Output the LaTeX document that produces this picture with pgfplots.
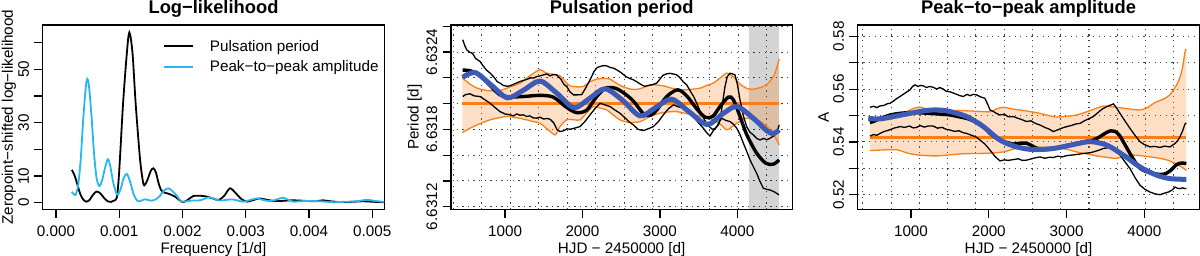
\documentclass[border=0pt]{standalone}
\usepackage{fontspec}
\setmainfont{Liberation Sans}
\usepackage{pgfplots}
\pgfplotsset{compat=1.18}
\definecolor{rblue}{RGB}{61,90,182}
\definecolor{rorange}{RGB}{250,127,25}
\definecolor{rsky}{RGB}{40,182,238}
\newcommand\fs{\fontsize{15.3}{18.4}\selectfont}
\newcommand\ft{\fontsize{18.4}{22}\selectfont\bfseries}
\pgfplotsset{
  every axis title shift=0pt,
  rstyle/.style={
    scale only axis, height=184.3bp,
    axis line style={line width=1.5bp},
    major tick style={line width=1.2bp, black},
    tick align=outside, tick pos=left,
    major tick length=8.5bp,
    scaled x ticks=false, scaled y ticks=false,
    ticklabel style={font=\fs},
    xticklabel style={anchor=base, inner sep=0pt, yshift=-18.5bp},
    yticklabel style={xshift=-5bp, rotate=90, anchor=south, inner sep=0pt},
    label style={font=\fs},
    title style={font=\ft, at={(0.5,1.0624)}, anchor=base},
    xlabel style={at={(axis description cs:0.5,-0.2425)}, anchor=base},
    major grid style={black!75, line width=1.1bp, dash pattern=on 1.3bp off 4.3bp},
  },
  thinblk/.style={black, line width=1.3bp},
  thickblk/.style={black, line width=3.4bp, smooth},
  blueline/.style={rblue, line width=5bp, smooth},
  orthin/.style={rorange, line width=1.3bp, smooth},
  band/.style={fill=rorange, fill opacity=0.25, draw=none},
}
\begin{document}
\begin{tikzpicture}
\useasboundingbox (0,0) rectangle (1200bp,256bp);
% ---------------- Panel 1 ----------------
\begin{axis}[rstyle, at={(42.7bp,46.7bp)}, anchor=south west, width=341.6bp,
  title={Log−likelihood},
  xlabel={Frequency [1/d]},
  ylabel={Zeropoint−shifted log−likelihood},
  ylabel style={at={(axis description cs:-0.0875,0.5)}, anchor=base},
  xmin=-0.00021, xmax=0.00519, ymin=-2.47, ymax=66.6,
  xtick={0,0.001,0.002,0.003,0.004,0.005},
  xticklabels={0.000,0.001,0.002,0.003,0.004,0.005},
  ytick={0,10,20,30,40,50,60},
  yticklabels={0,10,,30,,50,},
  legend style={draw=none, fill=none, at={(axis description cs:0.353,0.919)}, anchor=north west,
    font=\fs, inner sep=0pt, row sep=8bp, column sep=15.6bp, nodes={inner sep=0pt}},
  legend cell align=left,
  legend image code/.code={\draw[#1] (0bp,0bp) -- (29bp,0bp);},
]
\addplot[black, line width=1.8bp, smooth] coordinates {
(0.00025,12.3) (0.00029,10.5) (0.00033,7.5) (0.00038,3.5) (0.00043,1.2) (0.00048,0.4)
(0.00053,1.0) (0.00058,2.8) (0.00064,4.2) (0.00070,3.5) (0.00076,1.8) (0.00082,0.5)
(0.00087,0.3) (0.00092,0.8) (0.00096,1.8) (0.000985,7) (0.00101,16) (0.00106,37)
(0.00112,56) (0.00116,63.8) (0.00121,56) (0.00126,37) (0.00133,16) (0.00138,7.3)
(0.00141,6.8) (0.00145,8.8) (0.00150,12.0) (0.00154,12.9) (0.00158,11.3) (0.00162,7.5)
(0.00166,4.8) (0.00171,3.8) (0.00176,3.5) (0.00182,3.0) (0.00188,2.3) (0.00195,1.0)
(0.00201,0.2) (0.00208,1.0) (0.00217,2.5) (0.00228,2.6) (0.00238,2.3) (0.00248,1.6)
(0.00257,1.0) (0.00266,2.6) (0.00275,5.4) (0.00284,3.6) (0.00293,1.4) (0.00302,0.4)
(0.00312,1.0) (0.00322,1.6) (0.00333,1.1) (0.00346,0.6) (0.00359,0.7) (0.00372,0.9)
(0.00386,0.8) (0.00400,0.6) (0.00412,0.6) (0.00422,0.9) (0.00432,0.6) (0.00445,0.3)
(0.00465,0.3) (0.00480,0.5) (0.00491,0.5) (0.00505,0.3) (0.00519,0.2)};
\addlegendentry{Pulsation period}
\addplot[rsky, line width=1.8bp, smooth] coordinates {
(0.00025,4.1) (0.00028,3.2) (0.00031,3.0) (0.00035,6.5) (0.00039,16) (0.00043,31)
(0.00047,43) (0.000495,46.4) (0.00052,44) (0.00056,33) (0.00060,19) (0.00064,9.5)
(0.000685,6.2) (0.00073,8.5) (0.00078,13.5) (0.00082,16.3) (0.00086,13.5) (0.00091,7)
(0.00097,3.0) (0.00102,5.0) (0.00107,9.2) (0.00112,10.8) (0.00117,8.0) (0.00123,3.0)
(0.00129,0.6) (0.00135,0.8) (0.00141,1.3) (0.00146,1.0) (0.00151,0.75) (0.00158,1.3)
(0.00164,2.5) (0.00171,4.6) (0.001775,5.4) (0.00184,4.4) (0.00191,2.6) (0.00198,0.5)
(0.00205,0.5) (0.00215,0.8) (0.00228,0.9) (0.00241,2.0) (0.00250,1.5) (0.00259,0.8)
(0.00270,1.1) (0.00280,1.2) (0.00296,0.4) (0.00307,1.0) (0.00317,1.6) (0.00328,1.0)
(0.00338,0.6) (0.00349,1.2) (0.00359,1.9) (0.00368,1.0) (0.00375,0.4) (0.00390,0.6)
(0.00412,0.6) (0.00425,0.4) (0.00438,0.2) (0.00452,0.3) (0.00465,0.4) (0.00478,0.6)
(0.00491,1.1) (0.00503,0.7) (0.00519,0.3)};
\addlegendentry{Peak−to−peak amplitude}
\end{axis}
% ---------------- Panel 2 ----------------
% y values: (period - 6.63 d) in units of 1e-4 d
\begin{axis}[rstyle, at={(451bp,46.7bp)}, anchor=south west, width=341.3bp,
  title={Pulsation period},
  xlabel={HJD − 2450000 [d]},
  ylabel={Period [d]},
  ylabel style={at={(axis description cs:-0.0952,0.5)}, anchor=base},
  xmin=302, xmax=4710, ymin=11.8, ymax=26.1,
  xtick={1000,2000,3000,4000}, xticklabels={1000,2000,3000,4000},
  ytick={12,14,16,18,20,22,24,26},
  yticklabels={6.6312,,,6.6318,,,6.6324,},
  ymajorgrids=true,
  extra x ticks={332,700,1068,1436,1804,2172,2540,2908,3276,3644,4012,4380},
  extra x tick labels={},
  extra x tick style={xmajorgrids=true, major tick length=0pt},
]
\addplot[draw=none, fill=black, fill opacity=0.17] coordinates {(4150,11) (4540,11) (4540,27) (4150,27)};
\addplot[band] coordinates {
(450,21.98) (550,21.50) (640,21.20) (720,21.07) (800,21.00) (935,21.02)
(1065,21.30) (1194,21.59) (1330,22.20) (1452,22.63) (1520,22.40) (1581,22.31)
(1650,22.25) (1710,22.16) (1780,21.70) (1839,21.38) (1920,21.30) (2011,21.33)
(2100,21.70) (2184,21.90) (2270,21.95) (2356,21.90) (2460,21.50) (2572,21.20)
(2660,21.10) (2743,21.15) (2830,21.35) (2915,21.46) (3044,21.38) (3150,21.20)
(3260,21.07) (3390,21.10) (3518,21.20) (3600,21.40) (3690,21.59) (3780,22.00)
(3863,22.37) (3920,22.20) (3970,21.98) (4020,21.60) (4078,21.33) (4140,21.15)
(4207,21.12) (4270,21.20) (4336,21.33) (4400,21.60) (4465,22.10) (4500,22.60)
(4540,23.46)
(4540,16.79) (4480,17.50) (4422,17.96) (4370,18.30) (4293,18.61) (4210,18.75)
(4121,18.87) (4060,18.70) (3992,18.48) (3930,18.20) (3863,17.96) (3780,18.40)
(3690,18.74) (3560,18.95) (3432,19.13) (3320,19.25) (3217,19.38) (3100,19.35)
(3002,19.26) (2870,19.00) (2743,18.60) (2600,18.55) (2485,18.74) (2400,19.10)
(2313,19.51) (2230,19.65) (2140,19.77) (2060,19.30) (1969,18.74) (1900,18.74)
(1796,18.74) (1710,18.22) (1680,17.90) (1646,17.57) (1550,18.00) (1452,18.48)
(1370,18.60) (1280,18.74) (1150,18.90) (1022,19.00) (920,18.90) (806,18.74)
(700,18.50) (591,18.22) (520,18.00) (450,17.75)};
\addplot[orthin] coordinates {
(450,21.98) (550,21.50) (640,21.20) (720,21.07) (800,21.00) (935,21.02)
(1065,21.30) (1194,21.59) (1330,22.20) (1452,22.63) (1520,22.40) (1581,22.31)
(1650,22.25) (1710,22.16) (1780,21.70) (1839,21.38) (1920,21.30) (2011,21.33)
(2100,21.70) (2184,21.90) (2270,21.95) (2356,21.90) (2460,21.50) (2572,21.20)
(2660,21.10) (2743,21.15) (2830,21.35) (2915,21.46) (3044,21.38) (3150,21.20)
(3260,21.07) (3390,21.10) (3518,21.20) (3600,21.40) (3690,21.59) (3780,22.00)
(3863,22.37) (3920,22.20) (3970,21.98) (4020,21.60) (4078,21.33) (4140,21.15)
(4207,21.12) (4270,21.20) (4336,21.33) (4400,21.60) (4465,22.10) (4500,22.60)
(4540,23.46)};
\addplot[orthin] coordinates {
(450,17.75) (520,18.00) (591,18.22) (700,18.50) (806,18.74) (920,18.90)
(1022,19.00) (1150,18.90) (1280,18.74) (1370,18.60) (1452,18.48) (1550,18.00)
(1646,17.57) (1680,17.90) (1710,18.22) (1796,18.74) (1900,18.74) (1969,18.74)
(2060,19.30) (2140,19.77) (2230,19.65) (2313,19.51) (2400,19.10) (2485,18.74)
(2600,18.55) (2743,18.60) (2870,19.00) (3002,19.26) (3100,19.35) (3217,19.38)
(3320,19.25) (3432,19.13) (3560,18.95) (3690,18.74) (3780,18.40) (3863,17.96)
(3930,18.20) (3992,18.48) (4060,18.70) (4121,18.87) (4210,18.75) (4293,18.61)
(4370,18.30) (4422,17.96) (4480,17.50) (4540,16.79)};
\addplot[rorange, line width=3.2bp] coordinates {(450,20.0) (4540,20.0)};
\addplot[thinblk] coordinates {
(453,24.96) (480,24.50) (505,24.18) (540,24.00) (580,23.90) (620,23.50)
(677,23.27) (720,22.90) (760,22.60) (806,22.37) (850,22.10) (900,21.70)
(935,21.59) (980,21.40) (1030,21.35) (1065,21.38) (1110,21.50) (1150,21.60)
(1194,21.72) (1240,21.80) (1290,21.90) (1330,22.00) (1366,21.98) (1410,22.10)
(1450,22.15) (1495,22.23) (1540,22.30) (1580,22.15) (1620,22.25) (1667,22.23)
(1720,21.90) (1760,21.50) (1796,21.33) (1840,20.90) (1883,20.68) (1940,20.68)
(1990,20.70) (2040,21.20) (2098,21.85) (2150,22.50) (2190,22.80) (2227,22.88)
(2270,22.95) (2313,22.93) (2360,22.80) (2400,22.75) (2442,22.62) (2500,22.40)
(2560,22.10) (2610,21.95) (2657,21.85) (2700,21.70) (2750,21.50) (2800,21.35)
(2830,21.38) (2880,21.45) (2920,21.50) (2959,21.59) (3000,21.90) (3040,22.20)
(3088,22.31) (3130,22.35) (3170,22.30) (3217,22.23) (3260,22.00) (3300,21.70)
(3346,21.46) (3400,20.90) (3440,20.50) (3475,20.03) (3520,19.40) (3561,18.90)
(3600,18.50) (3640,18.20) (3680,18.00) (3720,18.10) (3760,18.40) (3790,19.20)
(3815,20.30) (3841,21.33) (3870,22.10) (3906,22.36) (3940,22.30) (3970,22.23)
(4000,21.50) (4035,20.29) (4080,19.00) (4121,18.22) (4160,17.80) (4207,17.57)
(4250,17.30) (4293,17.18) (4340,17.30) (4380,17.20) (4422,17.31) (4470,17.50)
(4508,17.70) (4525,18.00) (4540,18.35)};
\addplot[thinblk] coordinates {
(453,20.55) (490,20.70) (548,20.76) (600,20.60) (677,20.55) (740,20.30)
(806,20.03) (870,19.70) (935,19.38) (1000,19.20) (1065,19.13) (1110,19.05)
(1150,19.20) (1194,19.10) (1237,19.13) (1280,19.00) (1320,19.05) (1360,18.90)
(1409,18.87) (1450,18.95) (1500,18.80) (1540,18.85) (1581,18.79) (1630,18.50)
(1670,18.00) (1710,17.83) (1760,17.90) (1800,18.05) (1840,18.01) (1900,18.10)
(1969,18.22) (2030,18.60) (2098,19.13) (2160,19.60) (2227,20.03) (2290,19.90)
(2356,19.77) (2420,19.50) (2485,19.25) (2540,18.95) (2600,18.60) (2657,18.35)
(2720,18.00) (2787,17.91) (2850,18.05) (2916,18.22) (2980,18.60) (3045,19.13)
(3110,19.60) (3174,19.90) (3240,19.75) (3303,19.64) (3370,19.30) (3432,19.00)
(3500,18.50) (3561,18.09) (3610,17.70) (3647,17.49) (3690,17.90) (3734,18.22)
(3770,18.60) (3798,18.87) (3850,18.70) (3906,18.61) (3950,18.40) (3992,18.09)
(4035,17.60) (4078,16.92) (4121,16.30) (4164,15.63) (4207,15.10) (4250,14.59)
(4290,14.00) (4336,13.43) (4380,13.35) (4422,13.30) (4480,13.15) (4539,12.91)};
\addplot[thickblk] coordinates {
(453,22.60) (548,22.55) (677,22.23) (806,21.40) (935,20.68) (1065,20.52)
(1237,20.55) (1452,20.64) (1624,20.50) (1796,19.70) (1925,19.30) (2055,19.50)
(2184,20.55) (2300,21.20) (2420,21.20) (2528,20.85) (2657,20.20) (2790,19.20)
(2880,19.10) (2959,19.50) (3088,20.55) (3230,21.07) (3346,20.60) (3475,19.60)
(3583,18.95) (3680,19.00) (3780,19.80) (3884,20.50) (3949,20.30) (4035,19.00)
(4121,17.60) (4250,16.15) (4370,15.37) (4465,15.30) (4540,15.63)};
\addplot[blueline] coordinates {
(453,22.04) (613,22.41) (820,21.45) (1030,20.45) (1240,21.05) (1452,21.75)
(1670,20.80) (1890,19.68) (2090,20.40) (2290,21.15) (2510,20.30) (2743,19.05)
(2945,19.70) (3150,20.35) (3370,19.40) (3610,18.38) (3810,19.20) (3992,19.78)
(4200,18.90) (4380,17.90) (4465,17.68) (4540,17.96)};
\end{axis}
% ---------------- Panel 3 ----------------
\begin{axis}[rstyle, at={(857.7bp,46.7bp)}, anchor=south west, width=341.6bp,
  title={Peak−to−peak amplitude},
  xlabel={HJD − 2450000 [d]},
  ylabel={A},
  ylabel style={at={(axis description cs:-0.0846,0.5)}, anchor=base},
  xmin=315, xmax=4707, ymin=0.51447, ymax=0.58428,
  xtick={1000,2000,3000,4000}, xticklabels={1000,2000,3000,4000},
  ytick={0.52,0.53,0.54,0.55,0.56,0.57,0.58},
  yticklabels={0.52,,0.54,,0.56,,0.58},
  ymajorgrids=true,
  extra x ticks={380,744,1107,1471,1834,2198,2562,2925,3289,3652,4016,4380},
  extra x tick labels={},
  extra x tick style={xmajorgrids=true, major tick length=0pt},
]
\addplot[band] coordinates {
(473,0.5487) (600,0.5490) (720,0.5493) (816,0.5496) (900,0.5505) (980,0.5520) (1050,0.5528)
(1116,0.5532) (1180,0.5526) (1244,0.5521) (1400,0.5520) (1550,0.5519) (1672,0.5518) (1850,0.5516)
(2016,0.5514) (2100,0.5525) (2187,0.5531) (2300,0.5525) (2402,0.5521) (2530,0.5515) (2659,0.5508)
(2770,0.5500) (2873,0.5494) (3000,0.5497) (3130,0.5502) (3240,0.5512) (3344,0.5523) (3473,0.5536)
(3560,0.5534) (3645,0.5531) (3750,0.5527) (3858,0.5523) (3944,0.5521) (4030,0.5528) (4100,0.5542)
(4159,0.5552) (4230,0.5560) (4288,0.5569) (4340,0.5582) (4373,0.5596) (4420,0.5618) (4459,0.5646)
(4490,0.5680) (4523,0.5741) (4540,0.5752)
(4540,0.5292) (4480,0.5305) (4400,0.5318) (4288,0.5332) (4150,0.5340) (4030,0.5345) (3944,0.5348)
(3858,0.5350) (3750,0.5345) (3645,0.5338) (3550,0.5340) (3430,0.5345) (3300,0.5352) (3130,0.5362)
(3002,0.5372) (2830,0.5379) (2659,0.5380) (2500,0.5379) (2359,0.5376) (2187,0.5362) (1973,0.5357)
(1672,0.5355) (1500,0.5351) (1330,0.5347) (1200,0.5348) (1073,0.5351) (950,0.5358) (816,0.5370)
(600,0.5369) (473,0.5367)};
\addplot[orthin] coordinates {
(473,0.5487) (600,0.5490) (720,0.5493) (816,0.5496) (900,0.5505) (980,0.5520) (1050,0.5528)
(1116,0.5532) (1180,0.5526) (1244,0.5521) (1400,0.5520) (1550,0.5519) (1672,0.5518) (1850,0.5516)
(2016,0.5514) (2100,0.5525) (2187,0.5531) (2300,0.5525) (2402,0.5521) (2530,0.5515) (2659,0.5508)
(2770,0.5500) (2873,0.5494) (3000,0.5497) (3130,0.5502) (3240,0.5512) (3344,0.5523) (3473,0.5536)
(3560,0.5534) (3645,0.5531) (3750,0.5527) (3858,0.5523) (3944,0.5521) (4030,0.5528) (4100,0.5542)
(4159,0.5552) (4230,0.5560) (4288,0.5569) (4340,0.5582) (4373,0.5596) (4420,0.5618) (4459,0.5646)
(4490,0.5680) (4523,0.5741) (4540,0.5752)};
\addplot[orthin] coordinates {
(473,0.5367) (600,0.5369) (816,0.5370) (950,0.5358) (1073,0.5351) (1200,0.5348) (1330,0.5347)
(1500,0.5351) (1672,0.5355) (1973,0.5357) (2187,0.5362) (2359,0.5376) (2500,0.5379) (2659,0.5380)
(2830,0.5379) (3002,0.5372) (3130,0.5362) (3300,0.5352) (3430,0.5345) (3550,0.5340) (3645,0.5338)
(3750,0.5345) (3858,0.5350) (3944,0.5348) (4030,0.5345) (4150,0.5340) (4288,0.5332) (4400,0.5318)
(4480,0.5305) (4540,0.5292)};
\addplot[rorange, line width=3.2bp] coordinates {(473,0.5417) (4540,0.5417)};
\addplot[thinblk] coordinates {
(473,0.5531) (520,0.5535) (560,0.5530) (601,0.5536) (650,0.5538) (700,0.5545) (730,0.5546)
(780,0.5556) (820,0.5565) (859,0.5572) (900,0.5580) (940,0.5588) (987,0.5597) (1020,0.5610)
(1051,0.5616) (1090,0.5610) (1120,0.5614) (1159,0.5612) (1200,0.5606) (1240,0.5610) (1287,0.5607)
(1330,0.5600) (1370,0.5606) (1416,0.5600) (1450,0.5592) (1500,0.5590) (1544,0.5585) (1590,0.5580)
(1630,0.5575) (1673,0.5572) (1720,0.5580) (1760,0.5575) (1800,0.5580) (1844,0.5578) (1900,0.5570)
(1951,0.5565) (1990,0.5540) (2016,0.5521) (2060,0.5515) (2100,0.5508) (2144,0.5502) (2200,0.5505)
(2250,0.5495) (2316,0.5496) (2370,0.5490) (2420,0.5485) (2487,0.5477) (2540,0.5480) (2600,0.5470)
(2659,0.5464) (2720,0.5455) (2780,0.5448) (2830,0.5439) (2880,0.5445) (2940,0.5452) (3002,0.5458)
(3060,0.5462) (3120,0.5468) (3173,0.5470) (3230,0.5480) (3290,0.5488) (3344,0.5496) (3400,0.5510)
(3440,0.5520) (3473,0.5527) (3530,0.5535) (3570,0.5540) (3602,0.5544) (3640,0.5530) (3687,0.5508)
(3750,0.5480) (3816,0.5451) (3880,0.5425) (3944,0.5401) (4000,0.5390) (4073,0.5381) (4130,0.5383)
(4202,0.5379) (4260,0.5384) (4330,0.5381) (4394,0.5394) (4430,0.5405) (4459,0.5420) (4490,0.5440)
(4523,0.5468) (4540,0.5472)};
\addplot[thinblk] coordinates {
(473,0.5422) (520,0.5428) (560,0.5425) (601,0.5432) (660,0.5440) (720,0.5445) (780,0.5452)
(859,0.5458) (920,0.5455) (980,0.5460) (1030,0.5453) (1073,0.5455) (1120,0.5462) (1170,0.5456)
(1220,0.5460) (1287,0.5460) (1340,0.5452) (1400,0.5455) (1450,0.5448) (1501,0.5445) (1560,0.5440)
(1620,0.5442) (1670,0.5435) (1716,0.5432) (1780,0.5425) (1840,0.5418) (1887,0.5407) (1950,0.5392)
(2016,0.5369) (2080,0.5345) (2144,0.5328) (2200,0.5332) (2250,0.5330) (2316,0.5333) (2380,0.5336)
(2430,0.5330) (2487,0.5331) (2550,0.5336) (2600,0.5340) (2659,0.5343) (2720,0.5338) (2780,0.5342)
(2830,0.5341) (2890,0.5346) (2940,0.5343) (3002,0.5348) (3060,0.5350) (3120,0.5352) (3173,0.5354)
(3230,0.5357) (3290,0.5358) (3344,0.5362) (3410,0.5368) (3473,0.5375) (3530,0.5378) (3580,0.5381)
(3630,0.5368) (3687,0.5350) (3750,0.5325) (3816,0.5299) (3880,0.5265) (3944,0.5236) (4010,0.5220)
(4073,0.5210) (4140,0.5203) (4202,0.5200) (4250,0.5205) (4309,0.5210) (4360,0.5218) (4394,0.5229)
(4430,0.5224) (4459,0.5223) (4490,0.5226) (4523,0.5223) (4540,0.5224)};
\addplot[thickblk] coordinates {
(473,0.5473) (540,0.5480) (601,0.5489) (680,0.5497) (730,0.5502) (850,0.5508) (987,0.5511)
(1120,0.5510) (1244,0.5508) (1380,0.5505) (1501,0.5502) (1620,0.5495) (1716,0.5489) (1800,0.5480)
(1887,0.5470) (1960,0.5450) (2016,0.5432) (2080,0.5418) (2144,0.5407) (2230,0.5398) (2316,0.5392)
(2400,0.5395) (2487,0.5395) (2540,0.5388) (2620,0.5376) (2744,0.5371) (2850,0.5375) (2959,0.5381)
(3070,0.5390) (3173,0.5397) (3260,0.5402) (3344,0.5407) (3430,0.5420) (3516,0.5436) (3570,0.5442)
(3623,0.5440) (3680,0.5425) (3740,0.5395) (3816,0.5356) (3880,0.5325) (3944,0.5300) (4030,0.5287)
(4116,0.5280) (4244,0.5277) (4330,0.5290) (4416,0.5314) (4480,0.5320) (4540,0.5318)};
\addplot[blueline] coordinates {
(451,0.5489) (601,0.5487) (773,0.5496) (987,0.5508) (1150,0.5517) (1287,0.5521) (1400,0.5520)
(1501,0.5515) (1716,0.5496) (1930,0.5458) (2144,0.5407) (2359,0.5381) (2573,0.5371) (2830,0.5375)
(3087,0.5390) (3302,0.5401) (3516,0.5388) (3730,0.5350) (3944,0.5305) (4159,0.5274) (4330,0.5261)
(4540,0.5258)};
\end{axis}
\end{tikzpicture}
\end{document}
